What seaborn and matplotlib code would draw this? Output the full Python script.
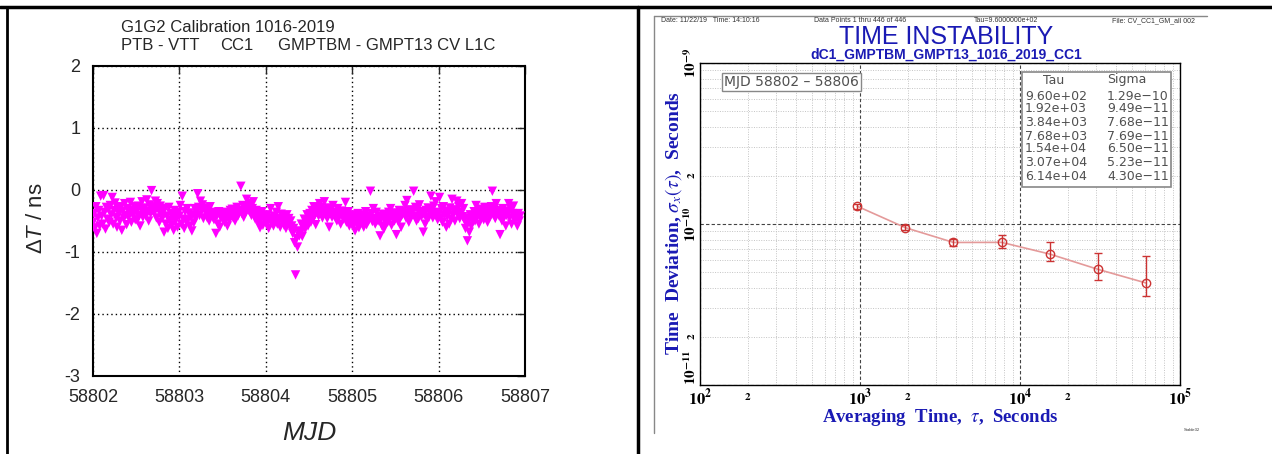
"""
G1G2 calibration 1016-2019, PTB - VTT, CC1:
left  = CV time differences GMPTBM - GMPT13 (L1C)
right = Stable32 time deviation of the same series
"""

import numpy as np
import pandas as pd
import seaborn as sns
import matplotlib.pyplot as plt
from matplotlib.lines import Line2D
from matplotlib.patches import Rectangle
from matplotlib.ticker import FixedLocator, FixedFormatter

# ---------------------------------------------------------
# DATA
# ---------------------------------------------------------
MJD_START = 58802.0
TAU0 = 960.0          # s, one CV point every 16 min (Tau=9.6e+02)

# dT / ns, one list per day
day1 = [-0.52, -0.38, -0.61, -0.27, -0.70, -0.45, -0.33, -0.58, -0.10,
        -0.42, -0.55, -0.09, -0.36, -0.63, -0.28, -0.47, -0.31, -0.52,
        -0.25, -0.40, -0.12, -0.55, -0.33, -0.21, -0.44, -0.60, -0.30,
        -0.38, -0.50, -0.27, -0.65, -0.34, -0.45, -0.22, -0.41, -0.56,
        -0.30, -0.44, -0.36, -0.20, -0.52, -0.33, -0.40, -0.27, -0.48,
        -0.35, -0.49, -0.26, -0.41, -0.58, -0.31, -0.19, -0.44, -0.37,
        -0.29, -0.42, -0.16, -0.35, -0.50, -0.24, -0.38, -0.01, -0.33,
        -0.27, -0.36, -0.18, -0.45, -0.22, -0.31, -0.52, -0.26, -0.40,
        -0.46, -0.35, -0.68, -0.30, -0.55, -0.42, -0.62, -0.28, -0.49,
        -0.38, -0.57, -0.44, -0.65, -0.33, -0.50, -0.41, -0.60, -0.36]
day2 = [-0.42, -0.25, -0.55, -0.10, -0.47, -0.62, -0.35, -0.51, -0.30,
        -0.48, -0.37, -0.58, -0.43, -0.66, -0.40, -0.53, -0.30, -0.45,
        -0.35, -0.06, -0.28, -0.41, -0.18, -0.33, -0.24, -0.46, -0.30,
        -0.29, -0.38, -0.45, -0.32, -0.50, -0.27, -0.40, -0.36, -0.44,
        -0.48, -0.37, -0.70, -0.42, -0.55, -0.35, -0.60, -0.44, -0.39,
        -0.47, -0.40, -0.52, -0.36, -0.45, -0.58, -0.42, -0.49, -0.33,
        -0.39, -0.31, -0.45, -0.36, -0.50, -0.34, -0.28, -0.42, -0.37,
        -0.33, 0.06, -0.38, -0.25, -0.44, -0.30, -0.36, -0.15, -0.28,
        -0.26, -0.35, -0.22, -0.41, -0.30, -0.19, -0.37, -0.47, -0.33,
        -0.43, -0.52, -0.38, -0.61, -0.46, -0.35, -0.57, -0.42, -0.50]
day3 = [-0.48, -0.56, -0.40, -0.62, -0.45, -0.30, -0.53, -0.47, -0.58,
        -0.42, -0.50, -0.36, -0.55, -0.27, -0.46, -0.60, -0.39, -0.51,
        -0.44, -0.57, -0.49, -0.62, -0.40, -0.53, -0.46, -0.59, -0.50,
        -0.58, -0.70, -0.62, -0.85, -1.37, -0.78, -0.92, -0.66, -0.74,
        -0.68, -0.55, -0.75, -0.60, -0.47, -0.63, -0.52, -0.40, -0.58,
        -0.45, -0.38, -0.52, -0.33, -0.47, -0.27, -0.41, -0.56, -0.36,
        -0.30, -0.42, -0.22, -0.37, -0.28, -0.45, -0.33, -0.19, -0.39,
        -0.35, -0.46, -0.29, -0.60, -0.38, -0.31, -0.44, -0.25, -0.40,
        -0.43, -0.36, -0.50, -0.30, -0.45, -0.39, -0.55, -0.34, -0.41,
        -0.47, -0.38, -0.20, -0.52, -0.44, -0.35, -0.58, -0.46, -0.40]
day4 = [-0.50, -0.58, -0.43, -0.66, -0.48, -0.55, -0.38, -0.61, -0.52,
        -0.45, -0.53, -0.40, -0.60, -0.47, -0.35, -0.56, -0.42, -0.50,
        -0.44, -0.02, -0.38, -0.51, -0.30, -0.46, -0.55, -0.36, -0.48,
        -0.50, -0.42, -0.74, -0.47, -0.58, -0.39, -0.63, -0.45, -0.53,
        -0.41, -0.52, -0.36, -0.48, -0.30, -0.57, -0.44, -0.38, -0.50,
        -0.43, -0.72, -0.37, -0.51, -0.33, -0.46, -0.60, -0.40, -0.35,
        -0.38, -0.25, -0.45, -0.17, -0.40, -0.52, -0.32, -0.44, -0.36,
        -0.34, -0.02, -0.42, -0.28, -0.50, -0.31, -0.46, -0.24, -0.38,
        -0.43, -0.35, -0.68, -0.40, -0.55, -0.33, -0.47, -0.29, -0.44,
        -0.37, -0.10, -0.32, -0.45, -0.26, -0.40, -0.19, -0.36, -0.48]
day5 = [-0.38, -0.12, -0.45, -0.30, -0.52, -0.27, -0.41, -0.34, -0.60,
        -0.43, -0.36, -0.55, -0.29, -0.47, -0.15, -0.40, -0.33, -0.50,
        -0.32, -0.18, -0.40, -0.27, -0.46, -0.36, -0.22, -0.43, -0.30,
        -0.48, -0.62, -0.55, -0.82, -0.45, -0.68, -0.40, -0.58, -0.50,
        -0.42, -0.35, -0.50, -0.25, -0.44, -0.38, -0.55, -0.31, -0.46,
        -0.40, -0.33, -0.48, -0.28, -0.43, -0.37, -0.52, -0.30, -0.45,
        -0.35, -0.27, -0.02, -0.40, -0.30, -0.46, -0.22, -0.38, -0.33,
        -0.42, -0.72, -0.36, -0.50, -0.30, -0.45, -0.38, -0.58, -0.41,
        -0.34, -0.22, -0.45, -0.30, -0.55, -0.38, -0.26, -0.48, -0.40,
        -0.45, -0.58, -0.38, -0.50, -0.42]

# Stable32 TDEV results (table in the plot) and error bar ends
tau = [960, 1920, 3840, 7680, 15400, 30700, 61400]
sigma = [1.29e-10, 9.49e-11, 7.68e-11, 7.69e-11, 6.50e-11, 5.23e-11, 4.30e-11]
sigma_hi = [1.33e-10, 9.79e-11, 8.09e-11, 8.57e-11, 7.71e-11, 6.59e-11, 6.34e-11]
sigma_lo = [1.24e-10, 9.16e-11, 7.31e-11, 7.08e-11, 5.85e-11, 4.50e-11, 3.59e-11]

xmajor = [1e2, 1e3, 1e4, 1e5]
xmajor_labels = [r'$\mathbf{10^{2}}$', r'$\mathbf{10^{3}}$', r'$\mathbf{10^{4}}$', r'$\mathbf{10^{5}}$']
ymajor = [1e-11, 1e-10, 1e-9]
ymajor_labels = [r'$\mathbf{10^{-11}}$', r'$\mathbf{10^{-10}}$', r'$\mathbf{10^{-9}}$']

dT = day1 + day2 + day3 + day4 + day5
mjd = MJD_START + np.arange(len(dT)) * TAU0 / 86400.0
df = pd.DataFrame({'MJD': mjd, 'dT': dT})
tdev = pd.DataFrame({'tau': tau, 'sigma': sigma})

# ---------------------------------------------------------
# STYLE
# ---------------------------------------------------------
sns.set_style('white')
plt.rcParams['font.family'] = ['Liberation Sans', 'DejaVu Sans']
plt.rcParams['mathtext.fontset'] = 'stix'
plt.rcParams['mathtext.rm'] = 'Liberation Sans'
plt.rcParams['mathtext.it'] = 'Liberation Sans:italic'

W, H = 1272, 454
fig = plt.figure(figsize=(W / 100, H / 100), dpi=100)


def fx(px):
    return px / W


def fy(py):
    return 1 - py / H


# page frame (top, left, divider)
fig.add_artist(Line2D([0, 1], [fy(7), fy(7)], color='black', lw=2.5))
fig.add_artist(Line2D([fx(7), fx(7)], [0, fy(7)], color='black', lw=2))
fig.add_artist(Line2D([fx(638), fx(638)], [0, fy(7)], color='black', lw=2.5))

# ---------------------------------------------------------
# LEFT: time differences
# ---------------------------------------------------------
ax1 = fig.add_axes([fx(93), fy(376), fx(525) - fx(93), fy(66) - fy(376)])
sns.scatterplot(data=df, x='MJD', y='dT', marker='v', s=46, color='#ff00ff',
                edgecolor='none', linewidth=0, ax=ax1, zorder=3)
ax1.set_xlim(58802, 58807)
ax1.set_ylim(-3, 2)
ax1.set_xticks(range(58802, 58808))
ax1.set_xticklabels([str(v) for v in range(58802, 58808)])
ax1.set_yticks(range(-3, 3))
ax1.set_yticklabels([str(v) for v in range(-3, 3)])
ax1.grid(True, color='black', linestyle=(0, (1, 2.2)), linewidth=1)
ax1.tick_params(direction='in', top=True, right=True, length=6, width=1,
                labelsize=13, pad=9)
for sp in ax1.spines.values():
    sp.set_color('black')
    sp.set_linewidth(1.5)
ax1.set_xlabel('')
ax1.set_ylabel('')

fig.text(fx(121), fy(27), 'G1G2 Calibration 1016-2019', fontsize=12, va='center')
fig.text(fx(121), fy(46), 'PTB - VTT', fontsize=12, va='center')
fig.text(fx(220), fy(46), 'CC1', fontsize=12, va='center')
fig.text(fx(278), fy(46), 'GMPTBM - GMPT13 CV L1C', fontsize=12, va='center')
fig.text(fx(37), fy(218), r'$\Delta\mathit{T}$ / ns', fontsize=16, rotation=90,
         ha='center', va='center', math_fontfamily='custom')
fig.text(fx(309), fy(433), 'MJD', fontsize=19, style='italic', ha='center', va='center')

# ---------------------------------------------------------
# RIGHT: Stable32 time deviation
# ---------------------------------------------------------
blue = '#1a1ab4'
grey_txt = '#505050'
fig.add_artist(Line2D([fx(654), fx(1207)], [fy(16), fy(16)], color='#888888', lw=1))
fig.add_artist(Line2D([fx(654), fx(654)], [fy(433), fy(16)], color='#888888', lw=1))

ax2 = fig.add_axes([fx(700), fy(385), fx(1180) - fx(700), fy(63) - fy(385)])
ax2.set_xscale('log')
ax2.set_yscale('log')
ax2.set_xlim(1e2, 1e5)
ax2.set_ylim(1e-11, 1e-9)

# grid: dotted light minors, dashed majors
ax2.xaxis.set_major_locator(FixedLocator(xmajor))
ax2.xaxis.set_major_formatter(FixedFormatter(xmajor_labels))
ax2.yaxis.set_major_locator(FixedLocator(ymajor))
ax2.yaxis.set_major_formatter(FixedFormatter(ymajor_labels))
xminor = [m * 10.0 ** e for e in (2, 3, 4) for m in range(2, 10)]
yminor = [m * 10.0 ** e for e in (-11, -10) for m in range(2, 10)]
ax2.xaxis.set_minor_locator(FixedLocator(xminor))
ax2.yaxis.set_minor_locator(FixedLocator(yminor))
ax2.xaxis.set_minor_formatter(FixedFormatter([r'$\mathbf{2}$' if round(v / 10 ** np.floor(np.log10(v))) == 2 else '' for v in xminor]))
ax2.yaxis.set_minor_formatter(FixedFormatter([r'$\mathbf{2}$' if round(v / 10 ** np.floor(np.log10(v))) == 2 else '' for v in yminor]))
ax2.grid(True, which='minor', color='#c4c4c4', linestyle=(0, (1, 1.5)), linewidth=0.7)
ax2.grid(True, which='major', color='#444444', linestyle=(0, (3, 2)), linewidth=0.8)
ax2.tick_params(which='both', direction='in', length=3, width=0.6, colors='black')
ax2.tick_params(axis='x', which='major', labelsize=12, pad=2)
ax2.tick_params(axis='x', which='minor', labelsize=8, pad=4)
ax2.tick_params(axis='y', which='major', labelsize=11, pad=1, labelrotation=90)
ax2.tick_params(axis='y', which='minor', labelsize=8, pad=2, labelrotation=90)
for lbl in ax2.get_yticklabels(which='both'):
    lbl.set_va('center')
ax2.get_yticklabels()[0].set_va('bottom')   # keep 10^-11 above the x labels
for sp in ax2.spines.values():
    sp.set_color('black')
    sp.set_linewidth(1)

sns.lineplot(data=tdev, x='tau', y='sigma', ax=ax2, color='#e49a9a', lw=1.2,
             marker='o', markersize=6, markerfacecolor='none',
             markeredgecolor='#cc3333', markeredgewidth=1, zorder=4)
yerr = [np.array(sigma) - np.array(sigma_lo), np.array(sigma_hi) - np.array(sigma)]
ax2.errorbar(tau, sigma, yerr=yerr, fmt='none', ecolor='#cc3333',
             elinewidth=1, capsize=3, capthick=1, zorder=4)
ax2.set_xlabel('')
ax2.set_ylabel('')

# MJD span box
ax2.text(0.19, 0.941, 'MJD 58802 – 58806', transform=ax2.transAxes, fontsize=10,
         family='DejaVu Sans', color=grey_txt, ha='center', va='center', zorder=6,
         bbox=dict(boxstyle='square,pad=0.15', facecolor='white', edgecolor='#888888', lw=1))

# Tau / Sigma table
x0, x1 = (1022 - 700) / 480, (1171 - 700) / 480
ytop, ybot = (385 - 72) / 322, (385 - 187) / 322
ax2.add_patch(Rectangle((x0, ybot), x1 - x0, ytop - ybot, transform=ax2.transAxes,
                        facecolor='white', edgecolor='#888888', lw=1.2, zorder=6))
tab = dict(transform=ax2.transAxes, fontsize=9, family='DejaVu Sans',
           color=grey_txt, va='center', zorder=7)
ax2.text((1054 - 700) / 480, (385 - 80) / 322, 'Tau', ha='center', **tab)
ax2.text((1127 - 700) / 480, (385 - 80) / 322, 'Sigma', ha='center', **tab)
row_y = [96, 109, 122, 136, 149, 162, 176]
for t, s, ry in zip(tau, sigma, row_y):
    yy = (385 - ry) / 322
    ax2.text((1025 - 700) / 480, yy, f'{t:.2e}', **tab)
    ax2.text((1107 - 700) / 480, yy, f'{s:.2e}'.replace('-', '−'), **tab)

# header, titles and axis labels
hdr = dict(fontsize=5, color='#333333', va='center')
fig.text(fx(661), fy(21), 'Date: 11/22/19   Time: 14:10:16', **hdr)
fig.text(fx(814), fy(21), 'Data Points 1 thru 446 of 446', **hdr)
fig.text(fx(974), fy(21), 'Tau=9.6000000e+02', **hdr)
fig.text(fx(1112), fy(21), 'File: CV_CC1_GM_all 002', **hdr)
fig.text(fx(1184), fy(430), 'Stable32', fontsize=3, color='#333333', va='center')

fig.text(fx(946), fy(37), 'TIME INSTABILITY', fontsize=18, color=blue,
         ha='center', va='center')
fig.text(fx(946), fy(55), 'dC1_GMPTBM_GMPT13_1016_2019_CC1', fontsize=10,
         fontweight='bold', color=blue, ha='center', va='center')
fig.text(fx(940), fy(417), 'Averaging  Time,  $\\tau$,  Seconds', fontsize=13.5,
         family='Liberation Serif', fontweight='bold', color=blue,
         ha='center', va='center')
fig.text(fx(674), fy(223), 'Time  Deviation, $\\sigma_x(\\tau)$,  Seconds', fontsize=14,
         family='Liberation Serif', fontweight='bold', color=blue, rotation=90,
         ha='center', va='center')

plt.savefig('out.png', dpi=100)
